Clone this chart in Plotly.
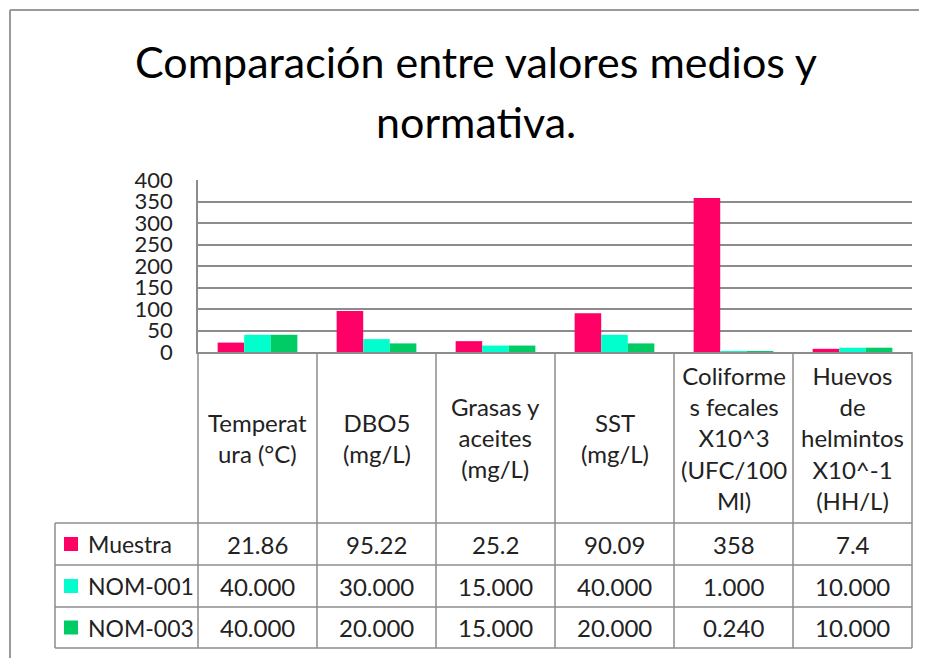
import plotly.graph_objects as go

# data
categories = [
    "Temperat<br>ura (°C)",
    "DBO5<br>(mg/L)",
    "Grasas y<br>aceites<br>(mg/L)",
    "SST<br>(mg/L)",
    "Coliforme<br>s fecales<br>X10^3<br>(UFC/100<br>Ml)",
    "Huevos<br>de<br>helmintos<br>X10^-1<br>(HH/L)",
]
series_names = ["Muestra", "NOM-001", "NOM-003"]
muestra = [21.86, 95.22, 25.2, 90.09, 358, 7.4]
nom_001 = [40.0, 30.0, 15.0, 40.0, 1.0, 10.0]
nom_003 = [40.0, 20.0, 15.0, 20.0, 0.24, 10.0]
series_colors = ["#FF0066", "#00FFCC", "#00CC66"]
title_lines = ["Comparación entre valores medios y", "normativa."]

# the page body has an 8px margin, so the figure is drawn 8px smaller
# and all reference pixel positions are shifted by that amount
OFF = 8
W, H = 927 - OFF, 658 - OFF
PL, PR, PT, PB = 198 - OFF, 912 - OFF, 180 - OFF, 352 - OFF  # plot area
GRID = "#8c8c8c"
TXT = "#222222"
FONT = "Lato"
FS = 24


def px(x):
    return (x - OFF - PL) / (PR - PL)


def py(y):
    return (PB - (y - OFF)) / (PB - PT)


fig = go.Figure()
for name, vals, col in zip(series_names, [muestra, nom_001, nom_003], series_colors):
    fig.add_trace(go.Bar(x=list(range(len(categories))), y=vals, name=name,
                         marker=dict(color=col, line=dict(width=0)),
                         showlegend=False))

shapes = []
annotations = []


def line(x0, y0, x1, y1, color=GRID, width=1.5):
    shapes.append(dict(type="line", xref="paper", yref="paper",
                       x0=px(x0), y0=py(y0), x1=px(x1), y1=py(y1),
                       line=dict(color=color, width=width)))


# outer frame (cropped chart border)
line(10, 10, 940, 10, color="#9a9a9a", width=2)
line(10, 10, 10, 670, color="#9a9a9a", width=2)

# data table
n = len(categories)
cw = (912 - 198) / n
row_y = [523, 565, 607, 648]
TL = 55
for i in range(n + 1):
    line(198 + i * cw, 352, 198 + i * cw, row_y[-1])
line(TL, row_y[0], TL, row_y[-1])
for y in row_y:
    line(TL, y, 912, y)

for i, cat in enumerate(categories):
    annotations.append(dict(xref="paper", yref="paper", x=px(198 + (i + 0.5) * cw),
                            y=py((352 + row_y[0]) / 2), text=cat, showarrow=False,
                            xanchor="center", yanchor="middle",
                            font=dict(size=FS, color=TXT, family=FONT)))

for r, (name, vals, col) in enumerate(zip(series_names, [muestra, nom_001, nom_003], series_colors)):
    yc = (row_y[r] + row_y[r + 1]) / 2
    shapes.append(dict(type="rect", xref="paper", yref="paper",
                       x0=px(64), x1=px(78), y0=py(yc - 7), y1=py(yc + 7),
                       fillcolor=col, line=dict(width=0)))
    annotations.append(dict(xref="paper", yref="paper", x=px(86), y=py(yc),
                            text=name, showarrow=False, xanchor="left", yanchor="middle",
                            font=dict(size=FS - 1, color=TXT, family=FONT)))
    for i, v in enumerate(vals):
        txt = f"{v:g}" if r == 0 else f"{v:.3f}"
        annotations.append(dict(xref="paper", yref="paper", x=px(198 + (i + 0.5) * cw),
                                y=py(yc), text=txt, showarrow=False,
                                xanchor="center", yanchor="middle",
                                font=dict(size=FS, color=TXT, family=FONT)))

# title, one annotation per line to match the wide line spacing
for text, yc in zip(title_lines, [62, 121]):
    annotations.append(dict(xref="paper", yref="paper", x=px(476), y=py(yc),
                            text=text, showarrow=False, xanchor="center", yanchor="middle",
                            font=dict(size=43, color="#000000", family=FONT)))

fig.update_layout(
    width=W, height=H,
    margin=dict(l=PL, r=W - PR, t=PT, b=H - PB, pad=0),
    paper_bgcolor="white", plot_bgcolor="white",
    barmode="group", bargap=0.33, bargroupgap=0,
    xaxis=dict(range=[-0.5, n - 0.5], showticklabels=False, showgrid=False,
               zeroline=False, showline=True, linecolor=GRID, linewidth=1.5,
               ticks=""),
    yaxis=dict(range=[0, 400], dtick=50, showgrid=True, gridcolor=GRID, gridwidth=1.5,
               zeroline=False, showline=True, linecolor=GRID, linewidth=1.5,
               ticks="", tickfont=dict(size=22, color=TXT, family=FONT),
               ticklabelstandoff=19),
    shapes=shapes,
    annotations=annotations,
    showlegend=False,
)

fig.write_html("out.html")
